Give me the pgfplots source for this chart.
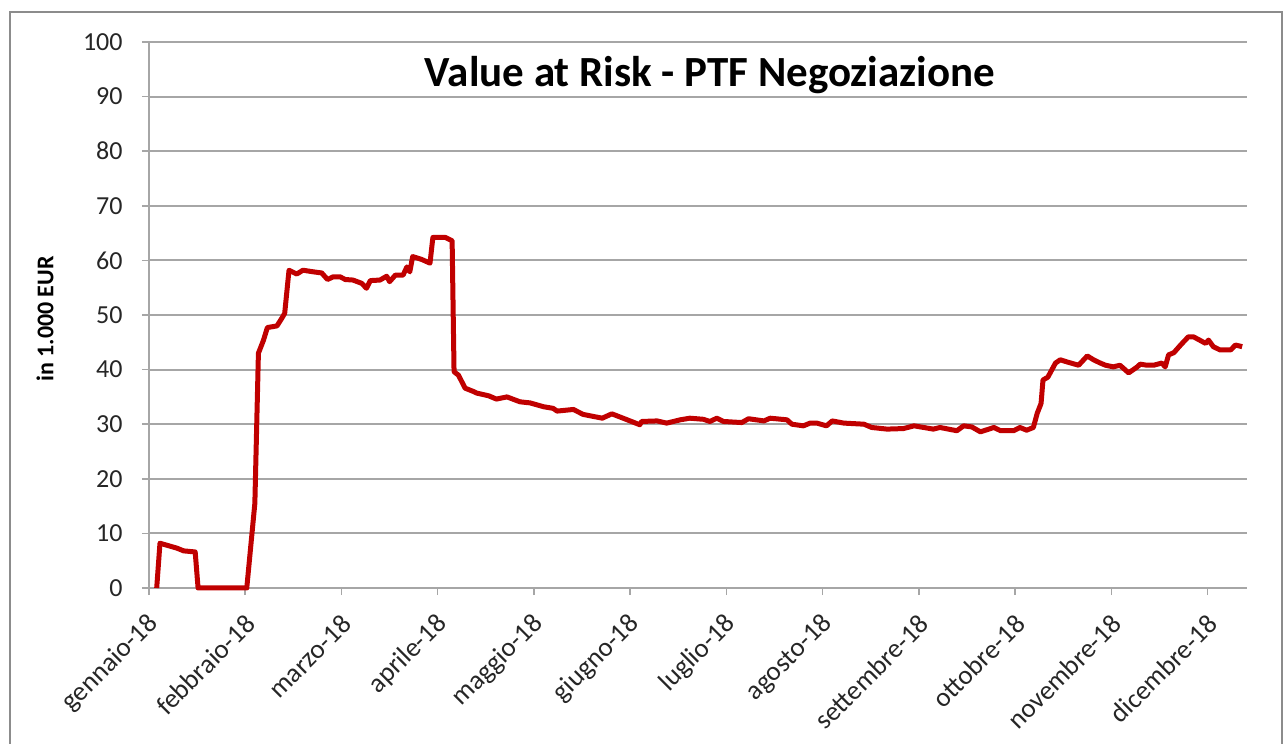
\documentclass[border=0pt]{standalone}
\usepackage{pgfplots}
\pgfplotsset{compat=1.18}
\usepackage{fontspec}
\setmainfont{Carlito}
\definecolor{varred}{HTML}{C00000}
\definecolor{gridgray}{HTML}{A6A6A6}
\definecolor{framegray}{HTML}{8C8C8C}
\begin{document}
\begin{tikzpicture}[x=0.5pt,y=0.5pt]
\useasboundingbox (0,0) rectangle (1286,744);
\draw[framegray,line width=1pt] (10,0)--(10,732)--(1282,732)--(1282,0);
\begin{axis}[
  at={(74.5pt,78pt)}, anchor=south west,
  scale only axis, width=549pt, height=273pt,
  xmin=0, xmax=11.41, ymin=0, ymax=100,
  axis x line*=bottom, axis y line*=left,
  axis line style={draw=gridgray,line width=1pt},
  xtick={0,...,11},
  xticklabels={gennaio-18,febbraio-18,marzo-18,aprile-18,maggio-18,giugno-18,luglio-18,agosto-18,settembre-18,ottobre-18,novembre-18,dicembre-18},
  ytick={0,10,...,100},
  ymajorgrids, grid style={gridgray,line width=1pt},
  tick align=outside, major tick length=3.5pt,
  tick style={gridgray,line width=0.8pt},
  /pgf/number format/assume math mode=true,
  tick label style={font=\fontsize{13}{15}\selectfont, color=black!85},
  xticklabel style={font=\fontsize{13.5}{15}\selectfont, rotate=45, anchor=east, inner sep=1pt},
  xticklabel shift=0pt,
  every x tick label/.append style={xshift=-5.7pt, yshift=-10.6pt},
  yticklabel style={inner sep=2pt, xshift=-7.5pt},
  clip=false,
]
\addplot[varred, line width=2.5pt, line join=round] coordinates {
(0.08,0) (0.114,8.2) (0.29,7.3) (0.36,6.8) (0.48,6.6) (0.51,0) (1.016,0)
(1.10,15.5) (1.137,43) (1.19,45.4) (1.23,47.7) (1.33,48) (1.38,49.4) (1.41,50.3)
(1.455,58.2) (1.535,57.5) (1.60,58.2) (1.71,57.9) (1.795,57.7) (1.855,56.5)
(1.915,57.0) (1.985,57.0) (2.04,56.5) (2.12,56.4) (2.21,55.8) (2.26,54.9)
(2.30,56.3) (2.40,56.4) (2.47,57.1) (2.50,56.1) (2.56,57.3) (2.64,57.3)
(2.68,58.8) (2.71,57.9) (2.74,60.7) (2.83,60.2) (2.92,59.5) (2.95,64.2)
(3.08,64.2) (3.15,63.6) (3.17,39.6) (3.215,39.0) (3.285,36.6) (3.37,36.0)
(3.405,35.7) (3.53,35.2) (3.61,34.6) (3.72,35.0) (3.855,34.1) (3.96,33.9)
(4.10,33.2) (4.20,32.9) (4.24,32.4) (4.41,32.7) (4.51,31.8) (4.71,31.1)
(4.81,31.9) (4.97,30.8) (5.10,29.9) (5.12,30.5) (5.28,30.6) (5.38,30.2)
(5.52,30.8) (5.62,31.1) (5.76,30.9) (5.83,30.5) (5.90,31.1) (5.97,30.5)
(6.16,30.3) (6.23,31.0) (6.39,30.6) (6.455,31.1) (6.63,30.8) (6.68,30.0)
(6.80,29.7) (6.87,30.2) (6.94,30.2) (7.04,29.7) (7.10,30.6) (7.22,30.2)
(7.43,30.0) (7.51,29.4) (7.67,29.1) (7.84,29.2) (7.95,29.7) (8.05,29.4)
(8.15,29.1) (8.22,29.4) (8.395,28.8) (8.465,29.7) (8.55,29.5) (8.64,28.6)
(8.78,29.4) (8.85,28.8) (8.985,28.8) (9.05,29.4) (9.12,28.9) (9.19,29.4)
(9.23,32.0) (9.27,33.8) (9.29,38.1) (9.34,38.6) (9.42,41.2) (9.47,41.8)
(9.54,41.4) (9.66,40.8) (9.75,42.5) (9.815,41.8) (9.885,41.2) (9.94,40.8)
(10.02,40.5) (10.09,40.8) (10.18,39.4) (10.27,40.5) (10.30,41.0) (10.37,40.8)
(10.44,40.8) (10.525,41.2) (10.56,40.5) (10.595,42.7) (10.65,43.1) (10.72,44.5)
(10.80,46.0) (10.855,46.0) (10.98,44.8) (11.01,45.4) (11.06,44.2) (11.13,43.6)
(11.24,43.6) (11.29,44.5) (11.36,44.2)
};
\end{axis}
\node[font=\bfseries\fontsize{21.5}{26}\selectfont] at (710,669) {Value at Risk - PTF Negoziazione};
\node[font=\bfseries\fontsize{12}{14}\selectfont, rotate=90] at (45,425) {in 1.000 EUR};
\end{tikzpicture}
\end{document}
